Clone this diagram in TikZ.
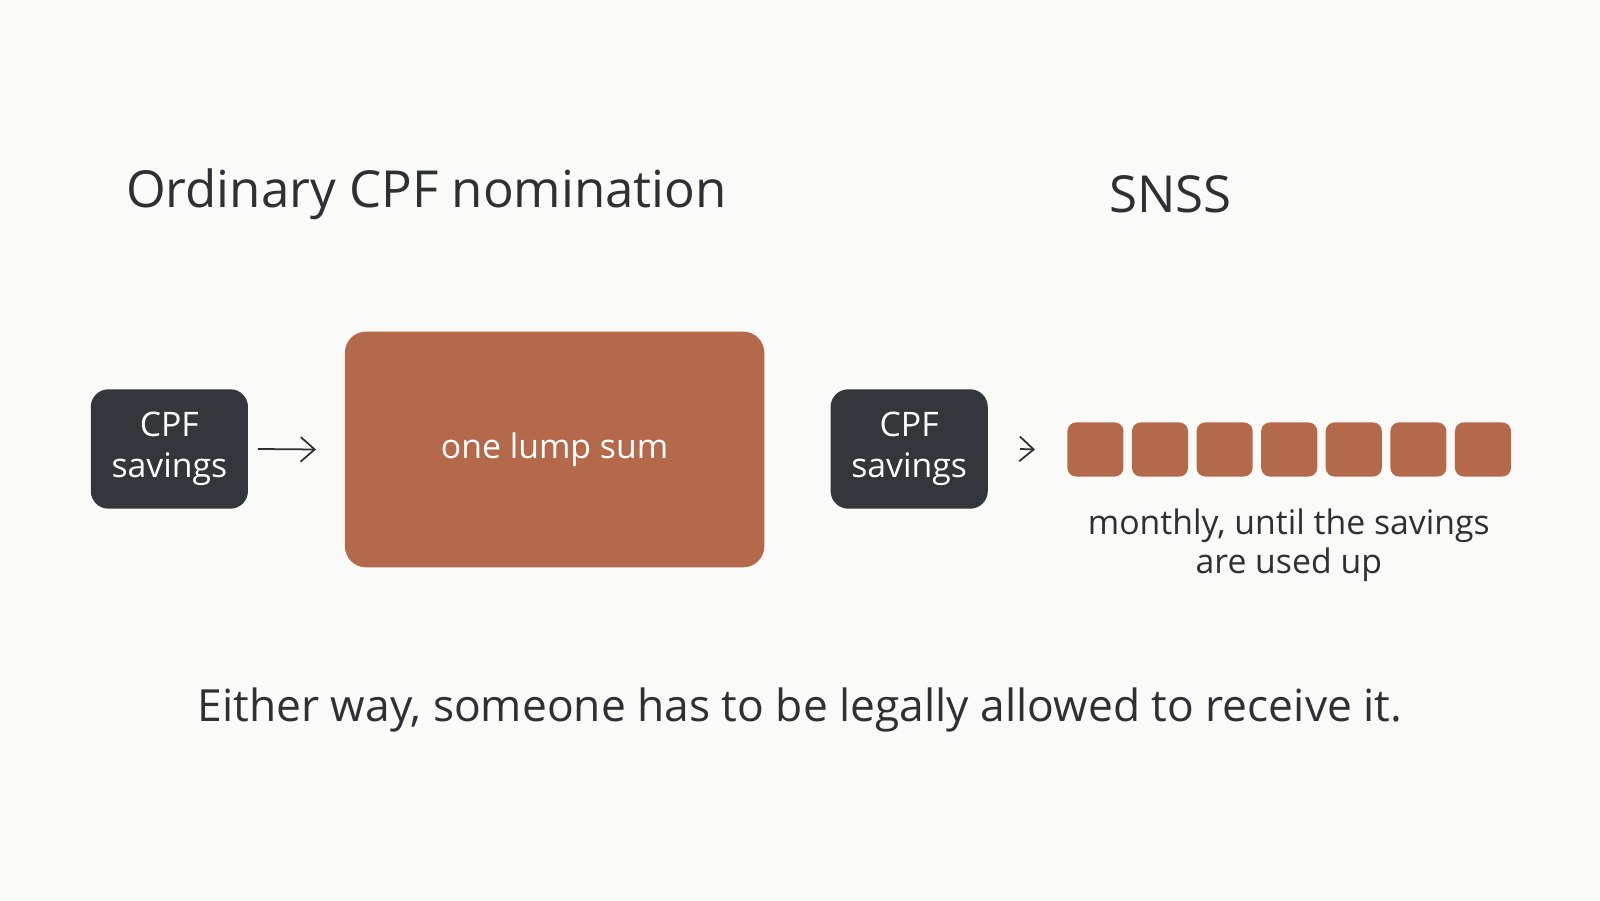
\documentclass[tikz,border=0pt]{standalone}
\usepackage{fontspec}
\setmainfont{Open Sans}
\usetikzlibrary{arrows.meta}
\definecolor{bg}{HTML}{FAFAF8}
\definecolor{dark}{HTML}{33363A}
\definecolor{rust}{HTML}{B5694B}
\definecolor{ink}{HTML}{2E3033}
\begin{document}
\begin{tikzpicture}[x=0.0102cm,y=-0.0102cm,
  darkbox/.style={fill=dark,rounded corners=5pt,text=white,font=\fontsize{9.6}{11.5}\selectfont,align=center,minimum width=154*0.0102cm,minimum height=117*0.0102cm,inner sep=0pt},
  sq/.style={fill=rust,rounded corners=2.5pt,minimum width=55*0.0102cm,minimum height=53*0.0102cm,inner sep=0pt},
  arr/.style={-{Straight Barb[length=4pt,width=7pt]},draw=ink,line width=0.5pt},
  title/.style={text=ink,font=\fontsize{14.5}{17}\selectfont}]
\fill[bg] (0,0) rectangle (1568,882);
\useasboundingbox (0,0) rectangle (1568,882);
\node[title] (t1) at (418,190) {Ordinary CPF nomination};
\node[title] (t2) at (1147,190) {SNSS};
\node[darkbox] (c1) at (166,440) {CPF\\savings};
\node[fill=rust,rounded corners=6pt,minimum width=411*0.0102cm,minimum height=231*0.0102cm,text=white,font=\fontsize{9.6}{11.5}\selectfont] (lump) at (543.5,440.5) {one lump sum};
\draw[arr] (c1.east)+(9,0) -- ([xshift=-8]lump.west);
\node[darkbox] (c2) at (891,440) {CPF\\savings};
\foreach \i in {0,...,6}{\node[sq] (s\i) at (1073.5+63.3*\i,440.5) {};}
\draw[arr] ([xshift=9]c2.east) -- ([xshift=-9]s0.west);
\node[text=ink,font=\fontsize{9.6}{11}\selectfont,align=center] (m) at (1263,534) {monthly, until the savings\\are used up};
\node[text=ink,font=\fontsize{12.6}{15}\selectfont] (b) at (784,696) {Either way, someone has to be legally allowed to receive it.};
\end{tikzpicture}
\end{document}
